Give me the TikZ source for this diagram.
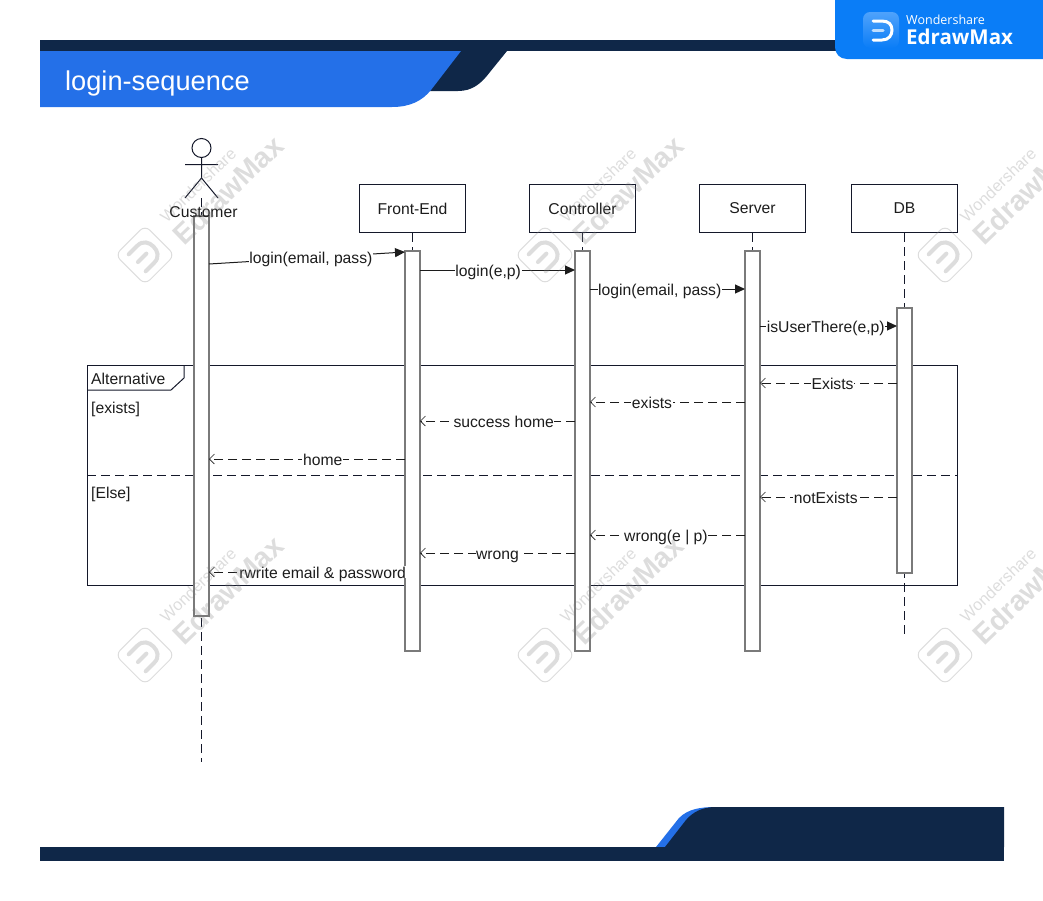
\documentclass[tikz,border=0pt]{standalone}
\usepackage{fontspec}
\setmainfont{Liberation Sans}
\newfontfamily\logofont{Open Sans}
\usepackage{tikz}
\usetikzlibrary{arrows.meta,positioning}
\definecolor{navy}{HTML}{0F2748}
\definecolor{bannerblue}{HTML}{2470E8}
\definecolor{logoblue}{HTML}{0A7DF7}
\definecolor{iconblue}{HTML}{4FA2FB}
\definecolor{inkgray}{HTML}{1C1C1C}
\definecolor{frameline}{HTML}{14182A}
\definecolor{barline}{HTML}{7A7A7A}
\definecolor{markgray}{HTML}{808080}

\begin{document}
\begin{tikzpicture}[x=1pt,y=-1pt]
\tikzstyle{head}=[rectangle,draw=frameline,line width=1pt,minimum width=106.5pt,minimum height=48.5pt,inner sep=0pt,text=inkgray,font=\fontsize{15.7}{18}\selectfont]
\tikzstyle{bar}=[rectangle,draw=barline,fill=white,line width=1.5pt,minimum width=15pt,inner sep=0pt]
\tikzstyle{lifeline}=[draw=frameline,line width=1pt,dash pattern=on 9pt off 5pt]
\tikzstyle{label}=[text=inkgray,inner sep=0pt,font=\fontsize{15.7}{18}\selectfont]
\tikzstyle{msglabel}=[label,fill=white,inner xsep=.6pt,inner ysep=0pt,text height=12pt,text depth=0pt,midway]
\tikzstyle{call}=[draw=inkgray,line width=1pt,-{Triangle[length=10pt,width=9pt]}]
\tikzstyle{reply}=[draw=inkgray,line width=1pt,dash pattern=on 9pt off 5pt,-{Straight Barb[length=5pt,width=10pt,line width=.6pt]}]

\useasboundingbox (0,0) rectangle (1043,900);
\clip (0,0) rectangle (1043,900);

% banner
\fill[navy] (40,40) rectangle (840,51);
\fill[navy] (430,51) -- (507,51) -- (490,72) .. controls (481,84) and (472,91) .. (458,91) -- (425,91) -- cycle;
\fill[bannerblue] (40,51) -- (461,51) -- (431,90) .. controls (422,101) and (410,107) .. (392,107) -- (40,107) -- cycle;
\node[anchor=west,text=white,inner sep=0pt,font=\fontsize{27.2}{30}\selectfont] (title) at (65,83) {login-sequence};

% logo
\fill[logoblue] (835,-5) -- (1048,-5) -- (1048,59) -- (847,59) .. controls (840,59) and (835,54) .. (835,47) -- cycle;
\shade[top color=iconblue,bottom color=logoblue,rounded corners=7pt] (863,12) rectangle (899,48);
\draw[white,line width=3pt,line cap=round] (873,21) -- (882,21) .. controls (889,21) and (892,25) .. (892,30) .. controls (892,35) and (889,40) .. (882,40) -- (873,40);
\draw[white,opacity=.7,line width=3pt,line cap=round] (873,30) -- (883,30);
\node[anchor=west,text=white,inner sep=0pt,font=\logofont\fontsize{12.5}{14}\selectfont] (logotop) at (906,20) {Wondershare};
\node[anchor=west,text=white,inner sep=0pt,font=\logofont\bfseries\fontsize{20.5}{22}\selectfont] (logoname) at (906,37) {EdrawMax};

% footer
\fill[bannerblue] (656,847) -- (679,818) .. controls (688,809) and (700,807) .. (716,807) -- (730,847) -- cycle;
\fill[navy] (40,847) rectangle (1004,861);
\fill[navy] (665,847) -- (686,820) .. controls (693,812) and (702,807) .. (716,807) -- (1004,807) -- (1004,847) -- cycle;

% lifelines
\coordinate (custtop) at (201,198);
\coordinate (custend) at (201,762);
\coordinate (dbend) at (904.5,635);
\draw[lifeline] (custtop) -- (custend);

% heads
\node[head] (front) at (412.5,208.5) {Front-End};
\node[head] (ctrl) at (582.5,208.5) {Controller};
\node[head] (server) at (752.5,208.5) {Server};
\node[head] (db) at (904.5,208.5) {DB};
\draw[lifeline] (db) -- (dbend);
\draw[lifeline] (front) -- (412.5,251);
\draw[lifeline] (ctrl) -- (582.5,251);
\draw[lifeline] (server) -- (752.5,251);

% actor
\node[circle,draw=frameline,line width=1pt,minimum size=19pt,inner sep=0pt] (acthead) at (201.5,148) {};
\coordinate (hip) at (201.5,178);
\coordinate (lfoot) at (185,198);
\coordinate (rfoot) at (218,198);
\coordinate (larm) at (185,164.5);
\coordinate (rarm) at (218,164.5);
\draw[frameline,line width=1pt] (acthead) -- (hip) (larm) -- (rarm) (lfoot) -- (hip) -- (rfoot);

% frame
\node[rectangle,draw=frameline,line width=1pt,minimum width=870.5pt,minimum height=220pt,inner sep=0pt] (frame) at (522.5,475) {};
\coordinate (tagr) at (184,365);
\coordinate (tagc) at (184,378);
\coordinate (tagb) at (171,390);
\coordinate (tagl) at (87,390);
\coordinate (divl) at (87,475);
\coordinate (divr) at (958,475);
\draw[frameline,line width=1pt] (tagr) -- (tagc) -- (tagb) -- (tagl);
\draw[lifeline] (divl) -- (divr);
\node[label,anchor=west] (alt) at (91,379) {Alternative};
\node[label,anchor=west] (guard1) at (91,409) {[exists]};
\node[label,anchor=west] (guard2) at (91,494) {[Else]};

% activation bars
\node[bar,minimum height=400pt] (custbar) at (201.5,416) {};
\node[bar,minimum height=400pt] (frontbar) at (412.5,451) {};
\node[bar,minimum height=400pt] (ctrlbar) at (582.5,451) {};
\node[bar,minimum height=400pt] (serverbar) at (752.5,451) {};
\node[bar,minimum height=265pt] (dbbar) at (904.5,440.5) {};
\node[label] (cust) at (203.5,212.5) {Customer};

% message ends
\coordinate (c1) at (209,264);
\coordinate (f1) at (405,252);
\coordinate (f2) at (420,270);
\coordinate (k2) at (575,270);
\coordinate (k3) at (590,289);
\coordinate (s3) at (745,289);
\coordinate (s4) at (760,326);
\coordinate (d4) at (897,326);
\coordinate (d5) at (897,383);
\coordinate (s5) at (760,383);
\coordinate (s6) at (745,402);
\coordinate (k6) at (590,402);
\coordinate (k7) at (575,421);
\coordinate (f7) at (420,421);
\coordinate (f8) at (405,459);
\coordinate (c8) at (209,459);
\coordinate (d9) at (897,497);
\coordinate (s9) at (760,497);
\coordinate (s10) at (745,535);
\coordinate (k10) at (590,535);
\coordinate (k11) at (575,553);
\coordinate (f11) at (420,553);
\coordinate (f12) at (405,572);
\coordinate (c12) at (209,572);

% calls
\draw[call] (c1) -- node[msglabel,pos=.52] (m1) {login(email, pass)} (f1);
\draw[call] (f2) -- node[msglabel,pos=.44] (m2) {login(e,p)} (k2);
\draw[call] (k3) -- node[msglabel,pos=.45] (m3) {login(email, pass)} (s3);
\draw[call] (s4) -- node[msglabel,pos=.48] (m4) {isUserThere(e,p)} (d4);

% replies
\draw[reply] (d5) -- node[msglabel,pos=.47] (m5) {Exists} (s5);
\draw[reply] (s6) -- node[msglabel,pos=.6] (m6) {exists} (k6);
\draw[reply] (k7) -- node[msglabel,pos=.46] (m7) {success home} (f7);
\draw[reply] (f8) -- node[msglabel,pos=.42] (m8) {home} (c8);
\draw[reply] (d9) -- node[msglabel,pos=.52] (m9) {notExists} (s9);
\draw[reply] (s10) -- node[msglabel,pos=.51] (m10) {wrong(e | p)} (k10);
\draw[reply] (k11) -- node[msglabel,pos=.5] (m11) {wrong} (f11);
\draw[reply] (f12) -- node[msglabel,pos=.42] (m12) {rwrite email \& password} (c12);

% watermarks
\foreach \wx/\wy/\wn in {0/0/a,400/0/b,800/0/c,0/400/d,400/400/e,800/400/f}{
\begin{scope}[shift={(\wx,\wy)},opacity=.27]
\begin{scope}[shift={(145,255)},rotate=45]
\draw[markgray,line width=1pt,rounded corners=7pt] (-21,-21) rectangle (21,21);
\draw[markgray,line width=4pt,line cap=round] (-11,-12) -- (1,-12) .. controls (9,-12) and (12,-6) .. (12,0) .. controls (12,6) and (9,12) .. (1,12) -- (-11,12);
\draw[markgray,line width=4pt,line cap=round] (-10,0) -- (2,0);
\end{scope}
\node[text=markgray,rotate=44,inner sep=0pt,font=\fontsize{16.4}{18}\selectfont] (wtop\wn) at (198,185) {Wondershare};
\node[text=markgray,rotate=44,inner sep=0pt,font=\bfseries\fontsize{28.5}{30}\selectfont] (wname\wn) at (228,190) {EdrawMax};
\end{scope}
}
\end{tikzpicture}
\end{document}
